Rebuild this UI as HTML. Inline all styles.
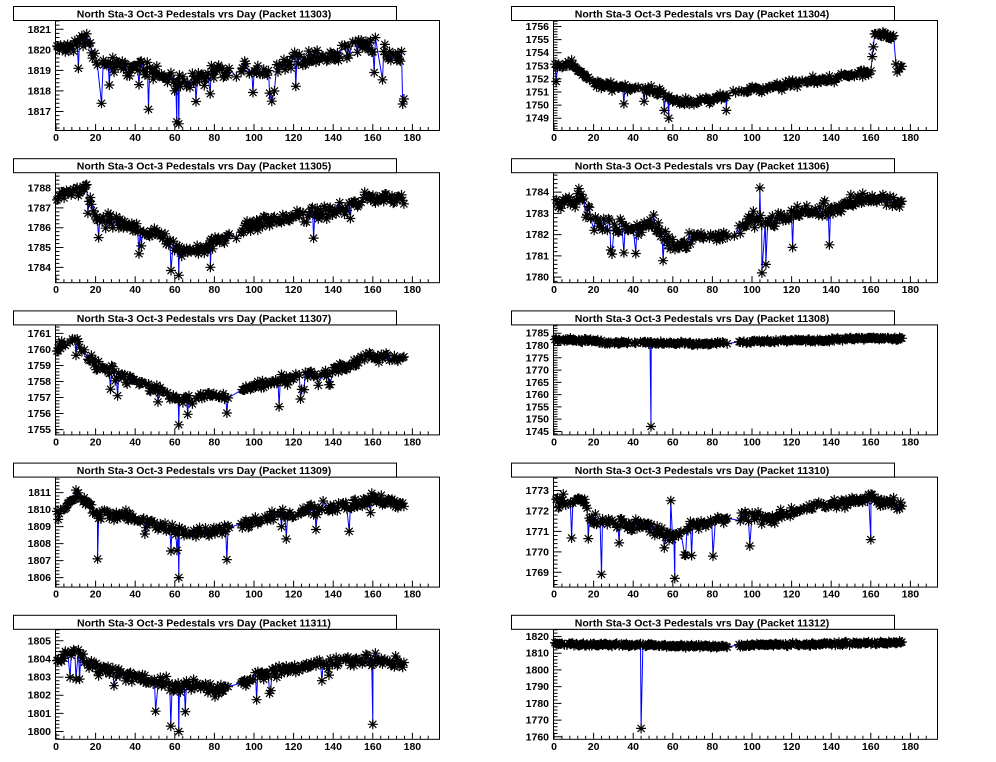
<!DOCTYPE html>
<html><head><meta charset="utf-8"><style>
html,body{margin:0;padding:0;background:#fff;}
svg{display:block;}
text{font-family:"Liberation Sans",Arial,sans-serif;font-weight:bold;fill:#000;}
</style></head><body>
<svg id="s" width="996" height="762" xmlns="http://www.w3.org/2000/svg"></svg>
<script>
var S=document.getElementById('s');var out='';
var seed=12345;function rnd(){seed=(seed*1103515245+12345)%2147483648;return seed/2147483648;}
function gauss(){return (rnd()+rnd()+rnd()-1.5)*1.4;}
var P=[
{pk:11303,top:1821.45,bot:1816.1,ticks:[1817,1818,1819,1820,1821],n:0.4,dips:0.04,dd:1.2,
 b:[[0,1820],[15,1820.5],[20,1819.5],[30,1819.2],[50,1819],[60,1818.4],[70,1818.5],[80,1818.8],[90,1819],[110,1819],[120,1819.5],[140,1819.6],[150,1820.2],[160,1820.2],[175,1819.5]],sp:[[62,1816.4],[61,1816.5],[109,1817.5],[23,1817.4]]},
{pk:11304,top:1756.5,bot:1748.1,ticks:[1749,1750,1751,1752,1753,1754,1755,1756],n:0.3,dips:0.02,dd:0.8,
 b:[[0,1753],[10,1753.1],[20,1751.6],[40,1751.3],[55,1751],[60,1750.3],[80,1750.3],[90,1751],[100,1751.2],[120,1751.6],[140,1752],[160,1752.5],[162,1755.4],[172,1755.1],[173,1752.7],[176,1752.7]],sp:[[58,1749],[87,1749.6]]},
{pk:11305,top:1788.8,bot:1783.25,ticks:[1784,1785,1786,1787,1788],n:0.35,dips:0.03,dd:1.0,
 b:[[0,1787.5],[15,1788],[20,1786.5],[40,1786],[55,1785.5],[62,1784.8],[80,1785.2],[90,1785.8],[100,1786.2],[120,1786.5],[140,1786.8],[160,1787.5],[175,1787.5]],sp:[[62,1783.6],[78,1784]]},
{pk:11306,top:1784.94,bot:1779.76,ticks:[1780,1781,1782,1783,1784],n:0.35,dips:0.03,dd:1.0,
 b:[[0,1783.5],[15,1783.8],[20,1782.5],[40,1782.3],[50,1782.5],[60,1781.5],[70,1781.8],[80,1782],[90,1782],[100,1782.8],[110,1782.5],[120,1783],[140,1783.2],[160,1783.8],[175,1783.5]],sp:[[105,1780.2],[104,1784.2],[107,1780.6]]},
{pk:11307,top:1761.56,bot:1754.7,ticks:[1755,1756,1757,1758,1759,1760,1761],n:0.35,dips:0.03,dd:1.0,
 b:[[0,1760.2],[10,1760.5],[20,1759],[40,1758],[60,1757],[80,1757],[90,1757.3],[100,1757.6],[120,1758.2],[140,1758.7],[160,1759.5],[175,1759.5]],sp:[[62,1755.3]]},
{pk:11308,top:1788.6,bot:1743.8,ticks:[1745,1750,1755,1760,1765,1770,1775,1780,1785],n:0.7,dips:0.0,dd:1,
 b:[[0,1782.5],[20,1782],[25,1781],[40,1781.5],[60,1780.8],[80,1780.8],[100,1781.5],[140,1782.3],[160,1783],[175,1782.5]],sp:[[49,1747]]},
{pk:11309,top:1811.94,bot:1805.47,ticks:[1806,1807,1808,1809,1810,1811],n:0.35,dips:0.03,dd:1.1,
 b:[[0,1809.5],[10,1811],[20,1809.8],[40,1809.5],[60,1808.8],[70,1808.5],[80,1808.7],[100,1809.3],[120,1809.8],[140,1810.2],[160,1810.6],[175,1810.3]],sp:[[62,1806],[21,1807.1]]},
{pk:11310,top:1773.68,bot:1768.3,ticks:[1769,1770,1771,1772,1773],n:0.3,dips:0.03,dd:1.0,
 b:[[0,1772.4],[15,1772.5],[20,1771.5],[50,1771.2],[60,1770.8],[70,1771.2],[80,1771.5],[100,1771.8],[110,1771.5],[120,1772],[140,1772.3],[160,1772.6],[175,1772.3]],sp:[[61,1768.7],[24,1768.9],[59,1772.5],[160,1770.6]]},
{pk:11311,top:1805.66,bot:1799.6,ticks:[1800,1801,1802,1803,1804,1805],n:0.35,dips:0.03,dd:1.1,
 b:[[0,1804],[10,1804.5],[20,1803.5],[40,1803],[60,1802.5],[70,1802.5],[80,1802.3],[100,1803],[120,1803.5],[140,1803.8],[160,1804],[175,1803.8]],sp:[[62,1800],[58,1800.3],[160,1800.4]]},
{pk:11312,top:1824.6,bot:1758.8,ticks:[1760,1770,1780,1790,1800,1810,1820],n:0.9,dips:0,dd:1,
 b:[[0,1815.5],[40,1815],[80,1814],[100,1815],[140,1815.5],[175,1816.5]],sp:[[44,1765]]}
];
function base(b,d){for(var i=0;i<b.length-1;i++){if(d>=b[i][0]&&d<=b[i+1][0]){var t=(d-b[i][0])/(b[i+1][0]-b[i][0]);return b[i][1]+t*(b[i+1][1]-b[i][1]);}}return b[b.length-1][1];}
function star(x,y){var r=5,a=r*0.707;return 'M'+(x-r)+' '+y+'h'+(2*r)+'M'+x+' '+(y-r)+'v'+(2*r)+'M'+(x-a)+' '+(y-a)+'l'+(2*a)+' '+(2*a)+'M'+(x-a)+' '+(y+a)+'l'+(2*a)+' '+(-2*a);}
P.forEach(function(p,k){
 var col=k%2,row=Math.floor(k/2);
 var fx=col?553:55,fw=384,fy=20+row*152.2,fh=110;
 var x0=fx+1,pxd=1.98;
 function X(d){return x0+d*pxd;}
 function Y(v){return fy+(p.top-v)/(p.top-p.bot)*fh;}
 out+='<rect x="'+(fx+0.5)+'" y="'+(fy+0.5)+'" width="'+fw+'" height="'+fh+'" fill="none" stroke="#000"/>';
 var tx=col?511:13;
 out+='<rect x="'+(tx+0.5)+'" y="'+(fy-13.5)+'" width="383" height="14" fill="#fff" stroke="#000"/>';
 out+='<text x="'+(tx+191)+'" y="'+(fy-2.5)+'" font-size="10.5" text-anchor="middle">North Sta-3 Oct-3 Pedestals vrs Day (Packet '+p.pk+')</text>';
 var tk='';
 for(var d=0;d<=190;d+=4){var xx=X(d);var L=(d%20==0)?6:3;tk+='M'+xx+' '+(fy+fh)+'v'+(-L);}
 for(var d=0;d<=180;d+=20){out+='<text x="'+X(d)+'" y="'+(fy+fh+11)+'" font-size="10.5" text-anchor="middle">'+d+'</text>';}
 var st=p.ticks[1]-p.ticks[0];
 for(var v=p.ticks[0]-st;v<=p.top;v+=st/5){var yy=Y(v);if(yy<fy||yy>fy+fh)continue;var maj=Math.abs((v-p.ticks[0])/st-Math.round((v-p.ticks[0])/st))<0.01;tk+='M'+(fx+0.5)+' '+yy+'h'+(maj?8:4);}
 p.ticks.forEach(function(v){out+='<text x="'+(fx-4)+'" y="'+(Y(v)+3.5)+'" font-size="10.5" text-anchor="end">'+v+'</text>';});
 out+='<path d="'+tk+'" stroke="#000" fill="none"/>';
 var pts=[];
 for(var d=0.5;d<176;d+=0.6){
  if(d>88&&d<93&&rnd()<0.9)continue;
  if(rnd()<0.15)continue;
  var v=base(p.b,d)+gauss()*p.n*0.7;
  if(rnd()<p.dips)v-=p.dd*(0.6+rnd());
  pts.push([d,v]);
 }
 p.sp.forEach(function(s){for(var i=0;i<pts.length;i++){if(pts[i][0]>=s[0]){pts.splice(i,0,[s[0],s[1]]);break;}}});
 var ln='';pts.forEach(function(q,i){ln+=(i?'L':'M')+X(q[0]).toFixed(1)+' '+Y(q[1]).toFixed(1);});
 out+='<path d="'+ln+'" stroke="#0000ff" stroke-width="1" fill="none"/>';
 var ms='';pts.forEach(function(q){ms+=star(+X(q[0]).toFixed(1),+Y(q[1]).toFixed(1));});
 out+='<path d="'+ms+'" stroke="#000" stroke-width="1.2" fill="none"/>';
});
S.innerHTML=out;
</script>
</body></html>
